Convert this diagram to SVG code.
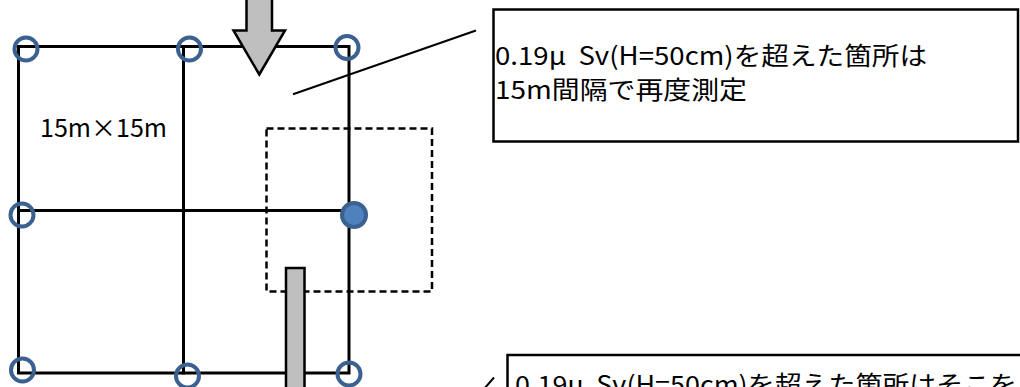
<svg xmlns="http://www.w3.org/2000/svg" width="1020" height="387" viewBox="0 0 1020 387">
<style>
.grid{stroke:#000;stroke-width:3;fill:none;stroke-linecap:square}
.pt{fill:none;stroke:#3B6190;stroke-width:4}
.ptf{fill:#4F81BD;stroke:#3B6190;stroke-width:4}
.gray{fill:#BFBFBF;stroke:#000;stroke-width:2.5}
.dash{fill:none;stroke:#000;stroke-width:2.5;stroke-dasharray:7,4}
.box{fill:#fff;stroke:#000;stroke-width:2.5}
.t{font-family:"Noto Sans CJK JP","Noto Sans",sans-serif;font-size:25px;fill:#000}
.ln{stroke:#000;stroke-width:2;fill:none}
</style>
<rect width="1020" height="387" fill="#fff"/>
<g id="grid">
<rect class="grid" x="18.5" y="46.5" width="330.5" height="326.5"/>
<line class="grid" x1="183.5" y1="46.5" x2="183.5" y2="373"/>
<line class="grid" x1="18.5" y1="210.5" x2="349" y2="210.5"/>
</g>
<g id="area-label"><text class="t" x="40" y="137" textLength="127" lengthAdjust="spacingAndGlyphs">15m×15m</text></g>
<g id="dashed-area"><rect class="dash" x="266.5" y="128.5" width="165.5" height="163"/></g>
<g id="arrow-down"><polygon class="gray" points="246.5,-3 272,-3 272,30.5 285,30.5 259.3,74.5 233.5,30.5 246.5,30.5"/></g>
<g id="bar"><rect class="gray" x="286" y="268" width="18.5" height="125"/></g>
<g id="points">
<circle class="pt" cx="26" cy="49" r="11.5"/>
<circle class="pt" cx="189.5" cy="49" r="11.5"/>
<circle class="pt" cx="347" cy="47.5" r="11.5"/>
<circle class="pt" cx="22" cy="215" r="11.5"/>
<circle class="ptf" cx="354" cy="215" r="12"/>
<circle class="pt" cx="22.5" cy="370" r="11.5"/>
<circle class="pt" cx="187.5" cy="376" r="11.5"/>
<circle class="pt" cx="349" cy="374" r="11.5"/>
</g>
<g id="connectors">
<line class="ln" x1="293" y1="94.3" x2="476" y2="30.5"/>
<line class="ln" x1="484" y1="389" x2="494" y2="377.5"/>
</g>
<g id="note-top">
<rect class="box" x="493.5" y="9.5" width="524.5" height="132"/>
<text class="t" x="495" y="65" textLength="432" lengthAdjust="spacingAndGlyphs" xml:space="preserve">0.19μ  Sv(H=50cm)を超えた箇所は</text>
<text class="t" x="495" y="99" textLength="252" lengthAdjust="spacingAndGlyphs">15m間隔で再度測定</text>
</g>
<g id="note-bottom">
<rect class="box" x="507.5" y="355" width="520" height="50"/>
<text class="t" x="515" y="394" textLength="502" lengthAdjust="spacingAndGlyphs" xml:space="preserve">0.19μ  Sv(H=50cm)を超えた箇所はそこを</text>
</g>
</svg>
